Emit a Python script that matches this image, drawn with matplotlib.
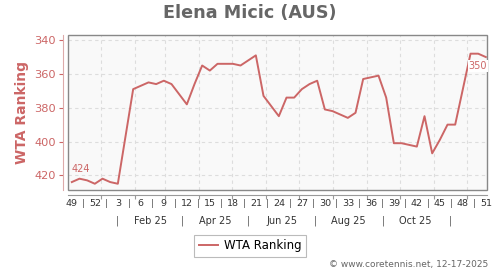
import datetime as dt
import numpy as np
import matplotlib
matplotlib.use("Agg")
import matplotlib.pyplot as plt
import matplotlib.transforms as mtransforms
from matplotlib.patches import Rectangle

# ---------------- data ----------------
title = "Elena Micic (AUS)"
series_name = "WTA Ranking"
# weekly WTA ranking, ISO week 49/2024 ... week 51/2025
ranks = [424, 422, 423, 425, 422, 424, 425, 397, 369, 367,
         365, 366, 364, 366, 372, 378, 366, 355, 358, 354,
         354, 354, 355, 352, 349, 373, 379, 385, 374, 374,
         369, 366, 364, 381, 382, 384, 386, 383, 363, 362,
         361, 374, 401, 401, 402, 403, 385, 407, 399, 390,
         390, 369, 348, 348, 350]
week_labels = ["49", "52", "3", "6", "9", "12", "15", "18", "21", "24",
               "27", "30", "33", "36", "39", "42", "45", "48", "51"]
month_labels = ["Feb 25", "Apr 25", "Jun 25", "Aug 25", "Oct 25"]
y_ticks = [340, 360, 380, 400, 420]
credit = "\u00a9 www.coretennis.net, 12-17-2025"

# ---------------- style ----------------
RED = "#cc6666"
GREY = "#666666"
origin = dt.datetime(2024, 12, 5, 12)


def wpos(d):
    return (d - origin).total_seconds() / (7 * 86400)


fig = plt.figure(figsize=(5, 2.7), dpi=100)
ax = fig.add_axes([0.136, 0.2963, 0.838, 0.5737])
ax.set_facecolor("#f9f9f9")

x = np.arange(len(ranks))
ax.plot(x, ranks, color=RED, lw=1.4, zorder=3)
ax.set_xlim(-0.5, 54.15)
ax.set_ylim(428.7, 337)

# grid
month_starts = [dt.datetime(2025, m, 1) for m in range(1, 13)]
gx = [wpos(d) for d in month_starts]
for g in gx:
    ax.axvline(g, color="#dddddd", lw=0.8, ls=(0, (3, 3)), zorder=1)
for t in y_ticks:
    ax.axhline(t, color="#dddddd", lw=0.8, ls=(0, (3, 3)), zorder=1)

# y axis
ax.set_yticks(y_ticks)
ax.tick_params(axis="y", colors=RED, labelsize=8.2, length=3, width=0.8, pad=2)
ax.spines["left"].set_position(("outward", 3.6))
ax.spines["left"].set_color("#ddaaaa")
ax.spines["right"].set_visible(False)
ax.spines["top"].set_visible(False)
ax.spines["bottom"].set_position(("outward", 3.6))
ax.spines["bottom"].set_color("#999999")
ax.set_xticks(gx)
ax.tick_params(axis="x", labelbottom=False, length=3, color="#999999", width=0.8)
ax.set_ylabel(series_name, color=RED, fontsize=10, fontweight="bold", labelpad=4)

# frame
ax.add_patch(Rectangle((0, 0), 1, 1, transform=ax.transAxes, fill=False,
                       edgecolor="#888888", lw=1.0, clip_on=False, zorder=4))

# week labels
trans = mtransforms.blended_transform_factory(ax.transData, ax.transAxes)
for i, lab in enumerate(week_labels):
    ax.text(i * 3, -0.09, lab, transform=trans, ha="center", va="center",
            fontsize=6.8, color="#333333")
    if i < len(week_labels) - 1:
        ax.text(i * 3 + 1.5, -0.09, "|", transform=trans, ha="center",
                va="center", fontsize=6.8, color="#555555")
# month labels
for k, lab in enumerate(month_labels):
    m = 2 + 2 * k
    ax.text(wpos(dt.datetime(2025, m, 15)), -0.198, lab, transform=trans,
            ha="center", va="center", fontsize=7, color="#333333")
for m in [1, 3, 5, 7, 9, 11]:
    ax.text(wpos(dt.datetime(2025, m, 16)), -0.198, "|", transform=trans,
            ha="center", va="center", fontsize=7, color="#555555")

# annotations
ax.annotate(str(ranks[0]), (x[0], ranks[0]), xytext=(0, 6),
            textcoords="offset points", ha="left", va="bottom",
            fontsize=7, color=RED, zorder=5)
ax.annotate(str(ranks[-1]), (x[-1], ranks[-1]), xytext=(1, -3),
            textcoords="offset points", ha="right", va="top",
            fontsize=7, color=RED, zorder=5,
            bbox=dict(boxstyle="square,pad=0.1", fc="white", ec="none"))

fig.suptitle(title, x=0.5, y=0.985, fontsize=12.7, fontweight="bold",
             color=GREY)

leg = fig.legend([ax.lines[0]], [series_name], loc="center",
                 bbox_to_anchor=(0.5, 0.089), fontsize=8.5, frameon=True,
                 fancybox=False, edgecolor="#aaaaaa", handlelength=1.6,
                 borderpad=0.4, handletextpad=0.5)
leg.get_frame().set_linewidth(0.8)

fig.text(0.976, 0.022, credit, ha="right", va="center", fontsize=6.5,
         color="#666666")

fig.savefig("out.png", dpi=100)
